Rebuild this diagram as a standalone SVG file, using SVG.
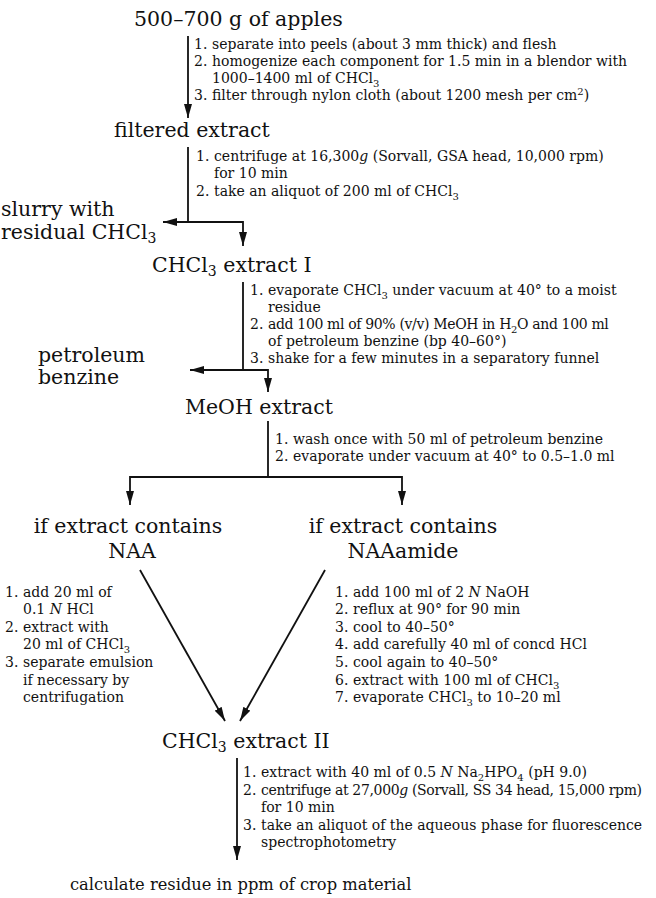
<svg xmlns="http://www.w3.org/2000/svg" width="656" height="898" viewBox="0 0 656 898">
<style>
text{font-family:"DejaVu Serif","Liberation Serif",serif;fill:#111}
.lbl{font-size:20.5px}
.st{font-size:14px}
.calc{font-size:16.3px}
.sub{font-size:10px}
.lsub{font-size:14px}
.c{fill:none;stroke:#111;stroke-width:1.8}
</style>
<defs>
<marker id="ah" markerUnits="userSpaceOnUse" markerWidth="14" markerHeight="8" refX="14" refY="4" orient="auto">
<path d="M0,0 L14,4 L0,8 z" fill="#111"/>
</marker>
</defs>
<rect width="656" height="898" fill="#fff"/>
<g id="connectors">
<path class="c" d="M188,36 V118" marker-end="url(#ah)"/>
<path class="c" d="M188,147 V222 H163" marker-end="url(#ah)"/>
<path class="c" d="M188,222 H243 V246" marker-end="url(#ah)"/>
<path class="c" d="M243,282 V370 H190" marker-end="url(#ah)"/>
<path class="c" d="M243,370 H268 V392" marker-end="url(#ah)"/>
<path class="c" d="M268,421 V477"/>
<path class="c" d="M268,477 H130 V505" marker-end="url(#ah)"/>
<path class="c" d="M268,477 H402 V505" marker-end="url(#ah)"/>
<path class="c" d="M140,570 L225,721" marker-end="url(#ah)"/>
<path class="c" d="M325,570 L240,721" marker-end="url(#ah)"/>
<path class="c" d="M237,758 V860" marker-end="url(#ah)"/>
</g>
<g id="n-apples"><text class="lbl" x="134" y="26">500–700 g of apples</text></g>
<g id="n-filtered"><text class="lbl" x="114" y="137">filtered extract</text></g>
<g id="n-slurry"><text class="lbl" x="1" y="216">slurry with</text><text class="lbl" x="1" y="239">residual CHCl<tspan class="lsub" dy="4">3</tspan></text></g>
<g id="n-chcl3-1"><text class="lbl" x="152" y="272">CHCl<tspan class="lsub" dy="4">3</tspan><tspan dy="-4"> extract I</tspan></text></g>
<g id="n-petroleum"><text class="lbl" x="38" y="362">petroleum</text><text class="lbl" x="38" y="384">benzine</text></g>
<g id="n-meoh"><text class="lbl" x="185" y="414">MeOH extract</text></g>
<g id="n-naa"><text class="lbl" x="128" y="533" text-anchor="middle">if extract contains</text><text class="lbl" x="132" y="558" text-anchor="middle">NAA</text></g>
<g id="n-naaamide"><text class="lbl" x="403" y="533" text-anchor="middle">if extract contains</text><text class="lbl" x="403" y="558" text-anchor="middle">NAAamide</text></g>
<g id="n-chcl3-2"><text class="lbl" x="162" y="748">CHCl<tspan class="lsub" dy="4">3</tspan><tspan dy="-4"> extract II</tspan></text></g>
<g id="n-calc"><text class="calc" x="70" y="890">calculate residue in ppm of crop material</text></g>
<g id="step-labels">
<text class="st" x="194" y="49">1.</text><text class="st" x="212" y="49">separate into peels (about 3 mm thick) and flesh</text>
<text class="st" x="194" y="66">2.</text><text class="st" x="212" y="66">homogenize each component for 1.5 min in a blendor with</text>
<text class="st" x="212" y="83">1000–1400 ml of CHCl<tspan class="sub" dy="3.5">3</tspan></text>
<text class="st" x="194" y="100">3.</text><text class="st" x="212" y="100">filter through nylon cloth (about 1200 mesh per cm<tspan class="sub" dy="-5.5">2</tspan><tspan dy="5.5">)</tspan></text>

<text class="st" x="196" y="161">1.</text><text class="st" x="214" y="161">centrifuge at 16,300<tspan font-style="italic">g</tspan> (Sorvall, GSA head, 10,000 rpm)</text>
<text class="st" x="214" y="178">for 10 min</text>
<text class="st" x="196" y="196">2.</text><text class="st" x="214" y="196">take an aliquot of 200 ml of CHCl<tspan class="sub" dy="3.5">3</tspan></text>

<text class="st" x="250" y="295">1.</text><text class="st" x="268" y="295">evaporate CHCl<tspan class="sub" dy="3.5">3</tspan><tspan dy="-3.5"> under vacuum at 40° to a moist</tspan></text>
<text class="st" x="268" y="312">residue</text>
<text class="st" x="250" y="329">2.</text><text class="st" x="268" y="329" letter-spacing="-0.35">add 100 ml of 90% (v/v) MeOH in H<tspan class="sub" dy="3.5">2</tspan><tspan dy="-3.5">O and 100 ml</tspan></text>
<text class="st" x="268" y="346">of petroleum benzine (bp 40–60°)</text>
<text class="st" x="250" y="363">3.</text><text class="st" x="268" y="363">shake for a few minutes in a separatory funnel</text>

<text class="st" x="275" y="444">1.</text><text class="st" x="293" y="444">wash once with 50 ml of petroleum benzine</text>
<text class="st" x="275" y="461">2.</text><text class="st" x="293" y="461">evaporate under vacuum at 40° to 0.5–1.0 ml</text>

<text class="st" x="5" y="597">1.</text><text class="st" x="23" y="597">add 20 ml of</text>
<text class="st" x="23" y="614">0.1 <tspan font-style="italic">N</tspan> HCl</text>
<text class="st" x="5" y="632">2.</text><text class="st" x="23" y="632">extract with</text>
<text class="st" x="23" y="649">20 ml of CHCl<tspan class="sub" dy="3.5">3</tspan></text>
<text class="st" x="5" y="667">3.</text><text class="st" x="23" y="667">separate emulsion</text>
<text class="st" x="23" y="685">if necessary by</text>
<text class="st" x="23" y="702">centrifugation</text>

<text class="st" x="335" y="597">1.</text><text class="st" x="353" y="597">add 100 ml of 2 <tspan font-style="italic">N</tspan> NaOH</text>
<text class="st" x="335" y="614">2.</text><text class="st" x="353" y="614">reflux at 90° for 90 min</text>
<text class="st" x="335" y="632">3.</text><text class="st" x="353" y="632">cool to 40–50°</text>
<text class="st" x="335" y="649">4.</text><text class="st" x="353" y="649">add carefully 40 ml of concd HCl</text>
<text class="st" x="335" y="667">5.</text><text class="st" x="353" y="667">cool again to 40–50°</text>
<text class="st" x="335" y="685">6.</text><text class="st" x="353" y="685">extract with 100 ml of CHCl<tspan class="sub" dy="3.5">3</tspan></text>
<text class="st" x="335" y="702">7.</text><text class="st" x="353" y="702">evaporate CHCl<tspan class="sub" dy="3.5">3</tspan><tspan dy="-3.5"> to 10–20 ml</tspan></text>

<text class="st" x="243" y="777">1.</text><text class="st" x="261" y="777">extract with 40 ml of 0.5 <tspan font-style="italic">N</tspan> Na<tspan class="sub" dy="3.5">2</tspan><tspan dy="-3.5">HPO</tspan><tspan class="sub" dy="3.5">4</tspan><tspan dy="-3.5"> (pH 9.0)</tspan></text>
<text class="st" x="243" y="795">2.</text><text class="st" x="261" y="795" letter-spacing="-0.35">centrifuge at 27,000<tspan font-style="italic">g</tspan> (Sorvall, SS 34 head, 15,000 rpm)</text>
<text class="st" x="261" y="812">for 10 min</text>
<text class="st" x="243" y="830">3.</text><text class="st" x="261" y="830">take an aliquot of the aqueous phase for fluorescence</text>
<text class="st" x="261" y="847">spectrophotometry</text>
</g>
</svg>
